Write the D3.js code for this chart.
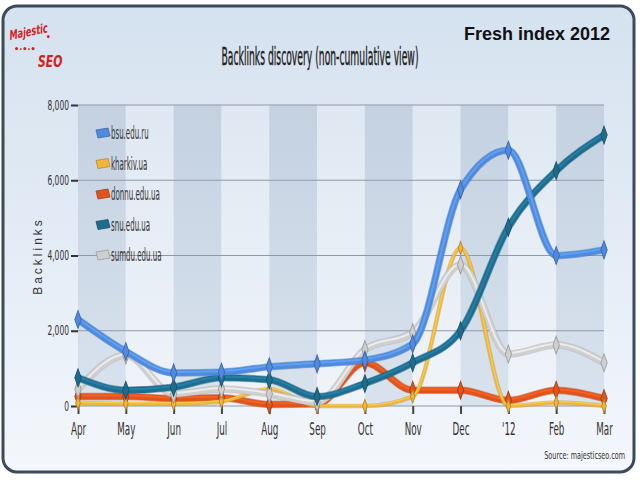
<!DOCTYPE html>
<html>
<head>
<meta charset="utf-8">
<script src="https://cdn.jsdelivr.net/npm/d3@7"></script>
<style>
  body { margin: 0; background: #fff; }
  svg text { font-family: "Liberation Sans Narrow", "DejaVu Sans Condensed", "Liberation Sans", sans-serif; }
</style>
</head>
<body>
<div class="paint"></div>
<script>
var months = ["Apr", "May", "Jun", "Jul", "Aug", "Sep", "Oct", "Nov", "Dec", "'12", "Feb", "Mar"];
var yTicks = [0, 2000, 4000, 6000, 8000];
var seriesNames = ["bsu.edu.ru", "kharkiv.ua", "donnu.edu.ua", "snu.edu.ua", "sumdu.edu.ua"];
var seriesColors = ["#4f8ade", "#f2b43a", "#e0531c", "#1e6d8e", "#cfcfcf"];
var bsu = [2300, 1450, 880, 900, 1040, 1120, 1220, 1650, 5750, 6800, 4000, 4150];
var kharkiv = [80, 60, 60, 120, 450, 0, 0, 250, 4200, 0, 90, 0];
var donnu = [250, 250, 200, 220, 40, 50, 1150, 420, 420, 150, 420, 200];
var snu = [750, 420, 500, 750, 700, 250, 600, 1150, 2000, 4750, 6250, 7200];
var sumdu = [450, 1350, 320, 450, 320, 100, 1500, 1950, 3750, 1380, 1620, 1150];
var allSeries = [bsu, kharkiv, donnu, snu, sumdu];

var main;
(function (main) {
    var W = 640, H = 480;
    var left = 78, right = 604, top = 105, bottom = 406;

    function ini() {
        var svg = d3.select(".paint").append("svg").attr("width", W).attr("height", H);
        var defs = svg.append("defs");

        var panelGrad = defs.append("linearGradient").attr("id", "panelGrad")
            .attr("x1", 0).attr("y1", 0).attr("x2", 0).attr("y2", 1);
        panelGrad.append("stop").attr("offset", "0%").attr("stop-color", "#d5e2ef");
        panelGrad.append("stop").attr("offset", "60%").attr("stop-color", "#e6eef7");
        panelGrad.append("stop").attr("offset", "100%").attr("stop-color", "#f4f7fb");

        var colDark = defs.append("linearGradient").attr("id", "colDark")
            .attr("x1", 0).attr("y1", 0).attr("x2", 0).attr("y2", 1);
        colDark.append("stop").attr("offset", "0%").attr("stop-color", "#c4d1e1");
        colDark.append("stop").attr("offset", "100%").attr("stop-color", "#d9e3ee");

        var colLight = defs.append("linearGradient").attr("id", "colLight")
            .attr("x1", 0).attr("y1", 0).attr("x2", 0).attr("y2", 1);
        colLight.append("stop").attr("offset", "0%").attr("stop-color", "#dfe8f2");
        colLight.append("stop").attr("offset", "100%").attr("stop-color", "#f0f4f9");

        // outer panel
        svg.append("rect").attr("x", 3).attr("y", 6).attr("width", 631).attr("height", 466)
            .attr("rx", 14).attr("fill", "url(#panelGrad)")
            .attr("stroke", "#3b4a5c").attr("stroke-width", 3);

        var x = d3.scalePoint().domain(months).range([left, right]);
        var y = d3.scaleLinear().domain([0, 8000]).range([bottom, top]);

        // alternating columns
        var cols = months.slice(0, -1);
        svg.selectAll(".col").data(cols).enter().append("rect")
            .attr("class", "col")
            .attr("x", d => x(d))
            .attr("y", top)
            .attr("width", x.step())
            .attr("height", bottom - top)
            .attr("fill", (d, i) => i % 2 === 0 ? "url(#colDark)" : "url(#colLight)");

        // grid
        svg.selectAll(".grid").data(yTicks).enter().append("line")
            .attr("x1", left).attr("x2", right)
            .attr("y1", d => y(d)).attr("y2", d => y(d))
            .attr("stroke", "#8f9aa6").attr("stroke-width", 1.2);

        // y axis
        var yAxis = svg.append("g").attr("transform", "translate(" + left + ",0)")
            .call(d3.axisLeft(y).tickValues(yTicks).tickFormat(d3.format(",")).tickSize(7).tickPadding(2));
        yAxis.select(".domain").remove();
        yAxis.selectAll("line").attr("stroke", "#333").attr("stroke-width", 2);
        yAxis.selectAll("text").attr("font-size", 12).attr("fill", "#333")
            .attr("transform", "scale(0.7,1.15)")
            .attr("x", -9 / 0.7).attr("dy", "0.3em");

        // x axis
        var xAxis = svg.append("g").attr("transform", "translate(0," + bottom + ")")
            .call(d3.axisBottom(x).tickSize(8).tickPadding(10));
        xAxis.select(".domain").remove();
        xAxis.selectAll("line").attr("stroke", "#444").attr("stroke-width", 2);
        xAxis.selectAll("text").attr("font-size", 13).attr("fill", "#333")
            .attr("transform", "scale(0.75,1.3) translate(0,-5)");

        // series
        var line = d3.line().x((d, i) => x(months[i])).y(d => y(d)).curve(d3.curveMonotoneX);
        var order = [2, 1, 4, 3, 0];
        order.forEach(function (k) {
            var vals = allSeries[k];
            var c = seriesColors[k];
            var lw = (k === 1) ? 3 : 6;
            svg.append("path").datum(vals).attr("d", line)
                .attr("fill", "none").attr("stroke", d3.color(c).darker(0.6))
                .attr("stroke-width", lw + 1.5).attr("stroke-opacity", 0.5).attr("stroke-linejoin", "round");
            svg.append("path").datum(vals).attr("d", line)
                .attr("fill", "none").attr("stroke", c)
                .attr("stroke-width", lw).attr("stroke-linejoin", "round");
            svg.append("path").datum(vals).attr("d", line)
                .attr("fill", "none").attr("stroke", d3.color(c).brighter(0.7))
                .attr("stroke-width", lw / 3).attr("stroke-opacity", 0.6)
                .attr("transform", "translate(0,-1)");
            svg.selectAll(".pt" + k).data(vals).enter().append("path")
                .attr("class", "pt" + k)
                .attr("d", d3.symbol().type(d3.symbolDiamond).size(k === 1 ? 30 : 55))
                .attr("transform", (d, i) => "translate(" + x(months[i]) + "," + y(d) + ") scale(0.8,1.3)")
                .attr("fill", c).attr("stroke", d3.color(c).darker(0.8)).attr("stroke-width", 1);
        });

        // legend
        var legend = svg.append("g").attr("transform", "translate(96,134)");
        var items = legend.selectAll(".leg").data(seriesNames).enter().append("g")
            .attr("transform", (d, i) => "translate(0," + (i * 30.5) + ")");
        items.append("path")
            .attr("d", "M0,-4 L12,-6 L14,2 L2,4 Z")
            .attr("fill", (d, i) => seriesColors[i])
            .attr("stroke", (d, i) => d3.color(seriesColors[i]).darker(0.8)).attr("stroke-width", 0.8);
        items.append("text").attr("x", 15 / 0.56).attr("y", 5 / 1.3)
            .attr("font-size", 14).attr("fill", "#333")
            .attr("transform", "scale(0.56,1.3)")
            .text(d => d);

        // y label
        svg.append("text")
            .attr("transform", "translate(42,256) rotate(-90)")
            .attr("text-anchor", "middle").attr("font-size", 12)
            .attr("letter-spacing", 3).attr("fill", "#333")
            .style("font-family", "Liberation Sans, Arial, sans-serif")
            .text("Backlinks");

        // title
        svg.append("text").attr("x", 320 / 0.57).attr("y", 65 / 1.35)
            .attr("transform", "scale(0.57,1.35)")
            .attr("text-anchor", "middle").attr("font-size", 18)
            .attr("fill", "#222").attr("stroke", "#222").attr("stroke-width", 0.3)
            .text("Backlinks discovery (non-cumulative view)");

        svg.append("text").attr("x", 610).attr("y", 40)
            .attr("text-anchor", "end").attr("font-size", 18).attr("font-weight", "bold")
            .attr("fill", "#111")
            .style("font-family", "Liberation Sans, Arial, sans-serif")
            .text("Fresh index 2012");

        // logo
        var logo = svg.append("g").attr("fill", "#d42020").attr("font-weight", "bold").attr("font-style", "italic");
        logo.append("text").attr("x", 10 / 0.7).attr("y", 40).attr("font-size", 13)
            .attr("transform", "scale(0.7,1) rotate(-8,14,40)").text("Majestic");
        logo.append("text").attr("x", 38 / 0.75).attr("y", 67).attr("font-size", 16)
            .attr("transform", "scale(0.75,1)").text("SEO");
        logo.append("text").attr("x", 14).attr("y", 52).attr("font-size", 9).text("\u2022\u00b7\u2022\u00b7\u2022");
        logo.append("text").attr("x", 46).attr("y", 40).attr("font-size", 8).text("\u2022");

        // source
        svg.append("text").attr("x", 625 / 0.8).attr("y", 459 / 1.1)
            .attr("transform", "scale(0.8,1.1)")
            .attr("text-anchor", "end").attr("font-size", 9).attr("fill", "#333")
            .text("Source: majesticseo.com");
    }
    main.ini = ini;
})(main || (main = {}));
main.ini();
</script>
</body>
</html>
